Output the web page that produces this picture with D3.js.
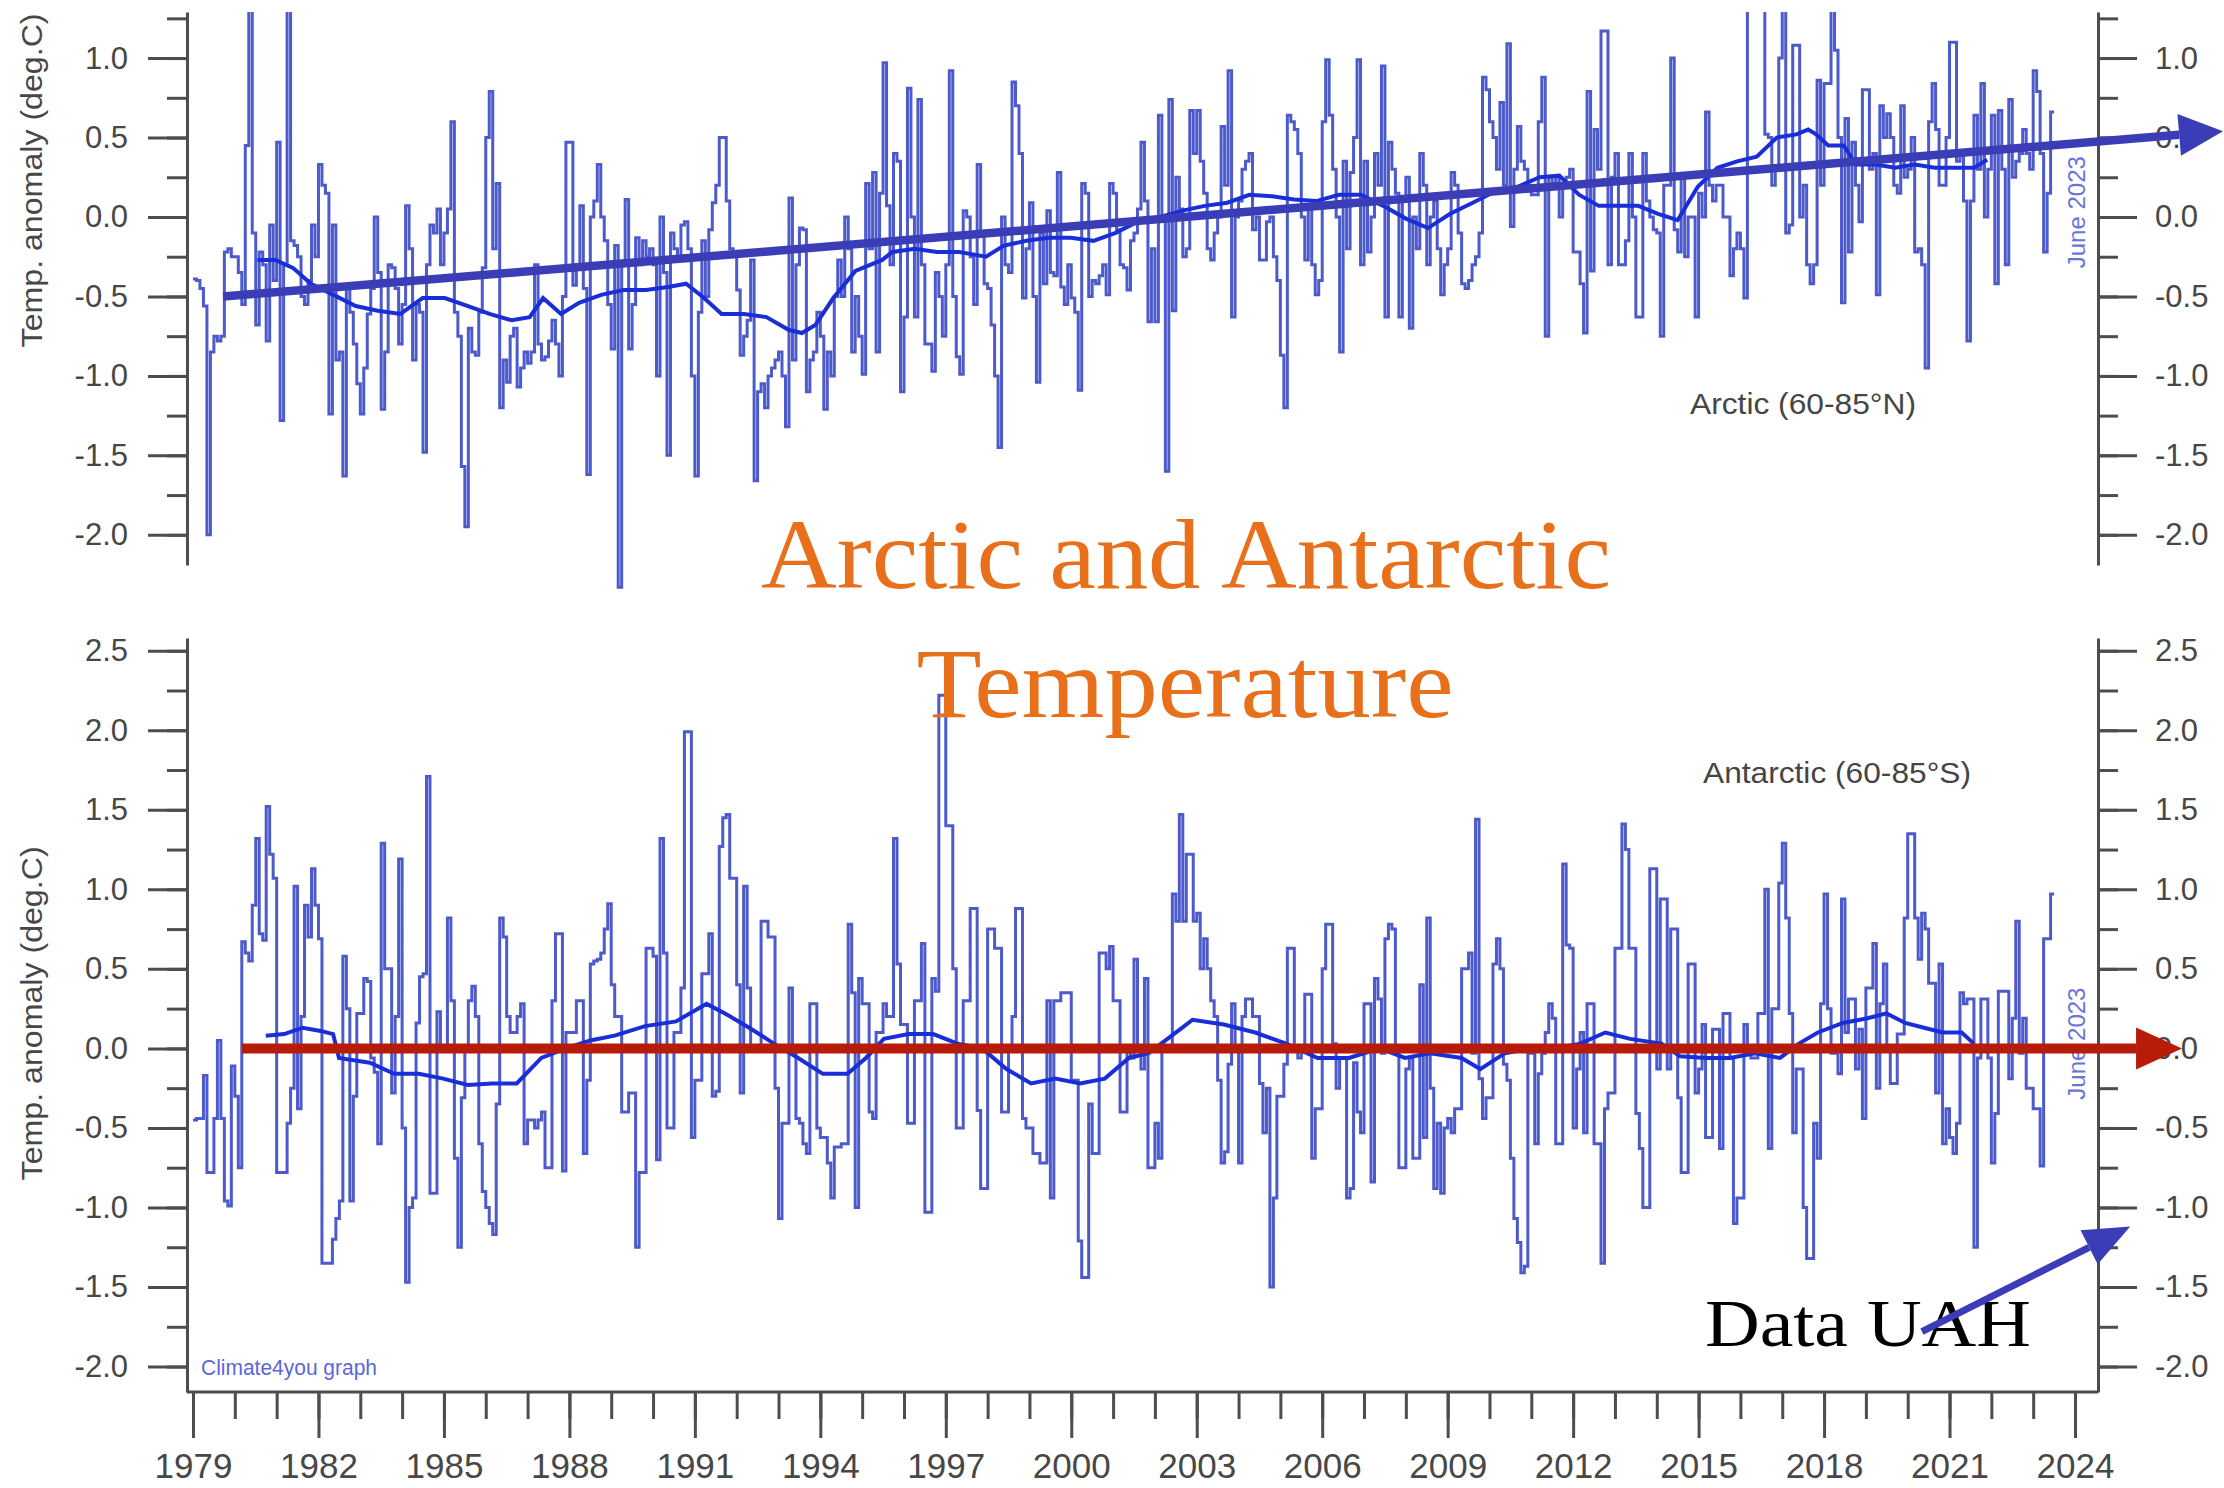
<!DOCTYPE html>
<html>
<head>
<meta charset="utf-8">
<script src="https://cdn.jsdelivr.net/npm/d3@7"></script>
<style>
  html, body { margin: 0; padding: 0; background: #fff; }
  svg { display: block; }
</style>
</head>
<body>
<script>
// ---- data: UAH lower troposphere monthly anomalies ----
const startYear = 1979;

// Arctic (60-85N), Jan 1979 .. Jun 2023, one row per year
const arcticMonthly = [
  -0.39,-0.40,-0.45,-0.56,-2.00,-0.85,-0.75,-0.78,-0.75,-0.22,-0.20,-0.25,
  -0.25,-0.35,-0.55,0.45,1.35,-0.10,-0.68,-0.22,-0.30,-0.78,-0.05,-0.40,
  0.47,-1.28,-0.30,1.35,-0.15,-0.18,-0.25,-0.50,-0.55,-0.40,-0.05,-0.25,
  0.33,0.20,0.15,-1.24,-0.05,-0.90,-0.85,-1.63,-0.45,-0.60,-0.80,-1.05,
  -1.24,-0.95,-0.61,-0.45,0.00,-0.35,-1.21,-0.85,-0.30,-0.32,-0.45,-0.80,
  -0.55,0.07,-0.20,-0.90,-0.55,-0.60,-1.48,-0.30,-0.05,-0.10,0.05,-0.30,
  -0.10,0.05,0.60,-0.60,-0.75,-1.57,-1.95,-0.70,-0.85,-0.87,-0.60,-0.32,
  0.50,0.79,-0.20,0.21,-1.20,-0.90,-1.04,-0.75,-0.70,-1.07,-0.95,-0.85,
  -0.92,-0.85,-0.30,-0.80,-0.90,-0.88,-0.78,-0.65,-0.80,-1.00,-0.50,0.47,
  0.47,-0.43,-0.30,0.07,-0.45,-1.62,0.00,0.10,0.33,0.00,-0.15,-0.55,
  -0.83,-0.18,-2.33,-0.30,0.11,-0.83,-0.55,-0.13,-0.30,-0.15,-0.25,-0.20,
  -0.30,-1.00,0.00,-0.35,-1.50,-0.10,-0.20,-0.25,-0.05,-0.03,-0.20,-1.00,
  -1.63,-0.60,-0.15,-0.50,-0.08,0.09,0.20,0.50,0.50,0.10,-0.20,-0.25,
  -0.46,-0.87,-0.75,-0.65,-0.27,-1.66,-1.10,-1.05,-1.20,-1.00,-0.95,-0.90,
  -0.85,-1.00,-1.32,0.12,-0.90,-0.30,-0.07,-0.08,-1.10,-0.90,-0.85,-0.60,
  -0.75,-1.21,-0.85,-1.00,-0.50,-0.27,-0.50,0.00,-0.20,-0.85,-0.50,-0.75,
  -0.99,0.21,-0.20,0.28,-0.85,0.15,0.97,0.07,-0.30,0.40,0.35,-1.10,
  -0.63,0.81,0.00,-0.63,0.74,-0.30,-0.80,-0.80,-0.97,-0.35,-0.50,-0.75,
  -0.30,0.92,-0.50,-0.88,-0.99,0.04,0.00,-0.25,-0.55,0.33,-0.10,-0.42,
  -0.45,-0.68,-1.00,-1.45,0.00,-0.30,-0.35,0.85,0.70,0.40,-0.51,-0.20,
  0.09,-0.50,-1.04,-0.10,-0.42,0.04,-0.35,-0.37,0.28,-0.44,-0.55,-0.30,
  -0.51,-0.60,-1.09,0.21,0.15,-0.50,-0.40,-0.42,-0.37,-0.30,-0.49,0.21,
  0.15,-0.08,-0.30,-0.32,-0.46,-0.15,-0.10,0.05,0.47,0.10,-0.66,-0.20,
  -0.66,0.64,0.00,-1.60,0.74,-0.59,0.25,0.05,-0.25,-0.20,0.67,0.40,
  0.67,0.35,0.15,-0.20,-0.27,-0.10,0.00,0.57,0.20,0.92,-0.63,0.00,
  0.10,0.30,0.35,0.40,-0.08,0.00,-0.27,-0.27,-0.03,0.00,-0.25,-0.40,
  -0.87,-1.20,0.64,0.60,0.55,0.40,0.00,-0.27,0.07,-0.30,-0.49,-0.40,
  0.60,0.99,0.64,0.30,0.00,-0.85,0.35,-0.20,0.28,0.50,0.99,-0.30,
  0.35,-0.22,0.00,0.40,0.20,0.95,-0.63,0.47,0.30,0.15,-0.63,0.10,
  0.25,-0.70,0.00,-0.20,0.40,0.20,-0.30,0.00,0.10,-0.20,-0.49,-0.30,
  -0.20,0.28,0.20,-0.10,-0.42,-0.45,-0.40,-0.30,-0.25,-0.10,0.88,0.80,
  0.60,0.50,0.30,0.72,0.20,1.09,-0.06,0.30,0.57,0.35,0.30,0.20,
  0.14,0.14,0.60,0.88,-0.75,0.25,0.20,0.25,0.00,0.20,0.25,0.30,
  -0.22,-0.22,-0.42,-0.73,0.79,-0.34,0.55,0.30,1.17,1.17,-0.30,0.25,
  0.40,-0.30,-0.30,-0.15,0.40,0.00,-0.63,-0.63,0.40,0.10,0.00,-0.08,
  -0.10,-0.75,0.20,0.20,1.00,-0.08,-0.22,0.26,-0.25,0.00,0.00,-0.63,
  0.15,0.00,0.66,0.20,0.10,0.20,0.20,0.00,0.00,-0.37,-0.20,-0.10,
  -0.20,-0.51,1.35,1.35,1.35,1.35,1.30,0.52,0.50,0.20,0.30,1.00,
  1.35,-0.10,-0.05,1.08,1.08,0.00,0.20,-0.30,-0.42,-0.30,0.86,0.20,
  0.84,0.84,1.35,1.05,0.50,-0.54,0.62,-0.22,0.47,0.20,-0.03,0.80,
  0.80,0.30,0.40,-0.49,0.70,0.50,0.65,0.50,0.20,0.15,0.70,0.25,
  0.30,0.50,-0.22,-0.20,-0.30,-0.95,0.60,0.84,0.55,0.20,0.20,0.50,
  1.10,1.10,0.35,0.40,0.10,-0.78,0.10,0.64,0.30,0.84,0.00,0.30,
  0.64,-0.42,0.67,0.30,-0.30,0.74,0.25,0.35,0.40,0.55,0.40,0.30,
  0.92,0.79,0.40,-0.22,0.15,0.66
];

// Antarctic (60-85S), Jan 1979 .. Jun 2023
const antarcticMonthly = [
  -0.45,-0.44,-0.44,-0.17,-0.78,-0.78,-0.44,0.05,-0.44,-0.96,-0.99,-0.11,
  -0.30,-0.75,0.67,0.60,0.55,0.90,1.32,0.72,0.68,1.52,1.22,1.07,
  -0.78,-0.78,-0.78,-0.47,-0.25,1.02,-0.38,0.20,0.90,0.70,1.13,0.90,
  0.69,-1.35,-1.35,-1.35,-1.20,-1.07,-0.96,0.58,0.25,-0.96,-0.30,0.22,
  0.22,0.44,0.42,-0.06,-0.15,-0.60,1.29,0.50,0.50,-0.28,0.20,1.19,
  -0.50,-1.47,-1.00,-0.94,0.16,0.45,0.47,1.71,-0.91,-0.91,0.23,0.00,
  0.00,0.82,0.30,-0.69,-1.25,-0.31,0.00,0.30,0.39,0.20,-0.60,-0.90,
  -1.00,-1.10,-1.17,-0.35,0.82,0.70,0.20,0.10,0.10,0.20,0.28,-0.60,
  -0.45,-0.45,-0.50,-0.45,-0.40,-0.75,-0.75,0.30,0.72,0.72,-0.77,0.10,
  0.10,0.10,0.30,0.30,-0.66,-0.20,0.53,0.55,0.56,0.60,0.75,0.91,
  0.40,0.20,0.20,-0.40,-0.40,-0.28,-0.28,-1.25,-0.78,-0.78,0.63,0.63,
  0.58,-0.70,1.32,0.60,-0.50,-0.50,0.10,0.10,0.38,1.99,1.99,-0.56,
  -0.20,-0.20,0.47,0.47,0.72,-0.30,-0.27,1.27,1.45,1.47,1.07,1.07,
  0.40,-0.28,1.02,0.38,-0.02,-0.02,-0.02,0.80,0.80,0.70,0.70,-0.25,
  -1.07,-0.47,-0.47,0.38,0.00,-0.44,-0.47,-0.60,-0.66,0.28,0.28,-0.50,
  -0.56,-0.56,-0.72,-0.94,-0.62,-0.62,-0.60,-0.60,0.78,0.35,-1.00,0.44,
  0.28,0.28,-0.40,-0.44,0.10,0.10,0.28,0.20,0.20,1.32,0.53,0.15,
  0.15,-0.47,-0.47,0.30,0.30,0.66,-1.03,-1.03,0.44,0.36,2.22,2.22,
  1.40,1.40,0.50,-0.50,-0.50,0.30,0.30,0.88,0.88,-0.39,-0.88,-0.88,
  0.75,0.75,0.63,0.63,-0.40,-0.40,0.00,0.20,0.88,0.88,-0.44,-0.50,
  -0.50,-0.66,-0.66,-0.72,-0.72,0.30,-0.94,0.30,0.30,0.35,0.35,0.35,
  -0.20,-0.20,-1.21,-1.44,-1.44,-0.35,-0.66,-0.66,0.60,0.60,0.50,0.64,
  0.30,0.30,-0.40,-0.40,0.00,-0.06,0.56,0.00,-0.13,0.44,-0.75,-0.75,
  -0.47,-0.69,0.00,0.00,0.00,0.97,0.80,1.47,0.80,1.22,1.22,0.80,
  0.85,0.50,0.69,0.50,0.30,0.20,-0.20,-0.72,-0.65,-0.10,0.28,0.00,
  -0.72,0.20,0.31,0.31,0.20,0.20,-0.22,-0.53,-0.25,-1.50,-0.94,-0.30,
  -0.30,-0.10,0.63,0.63,0.00,-0.06,0.00,0.34,0.34,-0.69,-0.38,-0.38,
  0.50,0.78,0.78,0.03,-0.25,-0.06,-0.06,-0.94,-0.88,-0.09,-0.40,-0.53,
  0.28,0.28,-0.84,0.44,0.31,-0.03,0.69,0.78,0.75,-0.03,-0.75,-0.75,
  -0.13,-0.06,-0.69,-0.69,0.40,-0.56,0.82,-0.25,-0.88,-0.47,-0.91,-0.50,
  -0.44,-0.53,-0.38,-0.38,0.50,0.50,0.60,-0.03,1.44,-0.19,-0.44,-0.31,
  -0.31,0.53,0.69,0.50,-0.10,-0.20,-0.69,-1.07,-1.22,-1.41,-1.37,-0.03,
  -0.03,-0.60,-0.16,-0.03,0.10,0.28,0.19,-0.60,-0.60,1.16,0.65,0.63,
  -0.50,-0.13,0.10,-0.53,0.28,0.28,-0.60,-0.60,-1.35,-0.38,-0.28,-0.28,
  0.63,0.63,1.41,1.25,0.63,0.63,-0.41,-0.63,-1.00,-1.00,1.13,1.13,
  -0.13,0.94,0.94,-0.13,0.75,0.75,-0.31,-0.78,-0.78,0.53,0.53,-0.28,
  -0.13,0.15,-0.56,-0.56,0.12,0.12,-0.63,0.22,0.22,-0.06,-1.10,-0.94,
  -0.94,0.15,0.00,-0.06,-0.06,0.22,0.22,1.00,-0.63,0.25,0.25,1.04,
  1.29,0.82,0.22,-0.53,-0.13,-0.13,-1.00,-1.32,-1.32,-0.47,-0.69,0.28,
  0.97,0.25,-0.03,-0.03,-0.16,0.94,0.10,0.31,0.31,-0.13,0.12,-0.44,
  0.38,0.38,0.66,-0.25,0.28,0.53,0.00,-0.22,-0.22,0.09,0.09,0.82,
  1.35,1.35,0.82,0.56,0.85,0.75,0.41,0.41,-0.28,0.53,-0.60,-0.38,
  -0.56,-0.66,-0.47,0.35,0.28,0.31,0.31,-1.25,-0.06,0.31,0.31,-0.06,
  -0.72,-0.41,0.36,0.36,0.36,-0.19,0.19,0.80,-0.03,0.19,-0.25,-0.25,
  -0.38,-0.38,-0.74,0.69,0.69,0.97
];

// 37-month running means as drawn, [decimal year, value]
const arcticSmooth = [
  [1980.54,-0.27],[1980.97,-0.27],[1981.39,-0.32],[1981.82,-0.42],[1982.36,-0.49],
  [1982.89,-0.56],[1983.42,-0.59],[1983.96,-0.61],[1984.49,-0.51],[1985.02,-0.51],
  [1985.56,-0.56],[1986.09,-0.61],[1986.62,-0.65],[1987.05,-0.63],[1987.37,-0.51],
  [1987.8,-0.61],[1988.23,-0.54],[1988.76,-0.49],[1989.29,-0.46],[1989.83,-0.46],
  [1990.36,-0.44],[1990.79,-0.42],[1991.22,-0.51],[1991.64,-0.61],[1992.18,-0.61],
  [1992.71,-0.63],[1993.24,-0.71],[1993.56,-0.73],[1993.88,-0.68],[1994.31,-0.51],
  [1994.84,-0.34],[1995.48,-0.27],[1995.72,-0.22],[1996.26,-0.20],[1996.79,-0.22],
  [1997.32,-0.22],[1997.96,-0.25],[1998.39,-0.18],[1998.93,-0.15],[1999.46,-0.13],
  [1999.99,-0.13],[2000.53,-0.15],[2001.06,-0.10],[2001.59,-0.03],[2002.13,0.00],
  [2002.66,0.04],[2003.19,0.07],[2003.73,0.09],[2004.26,0.14],[2004.8,0.13],
  [2005.33,0.11],[2005.86,0.10],[2006.4,0.14],[2006.93,0.14],[2007.46,0.07],
  [2008.0,-0.01],[2008.53,-0.07],[2009.06,0.02],[2009.6,0.09],[2010.13,0.16],
  [2010.67,0.19],[2011.2,0.25],[2011.67,0.26],[2012.14,0.14],[2012.61,0.07],
  [2013.09,0.07],[2013.56,0.07],[2014.03,0.02],[2014.5,-0.02],[2014.98,0.19],
  [2015.45,0.31],[2015.92,0.35],[2016.39,0.38],[2016.87,0.50],[2017.34,0.52],
  [2017.62,0.55],[2017.81,0.52],[2018.1,0.45],[2018.47,0.45],[2018.76,0.33],
  [2019.23,0.33],[2019.7,0.31],[2020.17,0.33],[2020.65,0.31],[2021.12,0.31],
  [2021.59,0.31],[2021.9,0.36]
];

const antarcticSmooth = [
  [1980.74,0.08],[1981.18,0.09],[1981.62,0.13],[1982.05,0.11],[1982.35,0.09],
  [1982.49,-0.06],[1983.23,-0.09],[1983.81,-0.16],[1984.4,-0.16],[1984.98,-0.19],
  [1985.57,-0.23],[1986.15,-0.22],[1986.74,-0.22],[1987.33,-0.06],[1987.91,0.00],
  [1988.5,0.05],[1989.08,0.08],[1989.81,0.14],[1990.55,0.17],[1991.28,0.28],
  [1991.72,0.22],[1992.3,0.13],[1992.89,0.03],[1993.47,-0.06],[1994.06,-0.16],
  [1994.65,-0.16],[1995.09,-0.06],[1995.52,0.06],[1996.11,0.09],[1996.7,0.09],
  [1997.28,0.03],[1997.87,0.00],[1998.45,-0.13],[1999.04,-0.22],[1999.62,-0.19],
  [2000.21,-0.22],[2000.8,-0.19],[2001.38,-0.06],[2001.85,-0.03],[2002.6,0.12],
  [2002.9,0.18],[2003.65,0.15],[2004.4,0.10],[2005.14,0.03],[2005.89,-0.06],
  [2006.64,-0.06],[2007.38,0.00],[2007.98,-0.06],[2008.58,-0.03],[2009.33,-0.06],
  [2009.78,-0.13],[2010.37,-0.03],[2010.97,0.00],[2011.57,0.00],[2012.17,0.03],
  [2012.77,0.10],[2013.36,0.06],[2014.11,0.03],[2014.56,-0.05],[2015.16,-0.06],
  [2015.75,-0.06],[2016.35,-0.03],[2016.95,-0.06],[2017.4,0.03],[2017.85,0.10],
  [2018.45,0.16],[2019.04,0.19],[2019.49,0.22],[2019.94,0.16],[2020.39,0.13],
  [2020.84,0.10],[2021.29,0.10],[2021.58,0.03]
];

// annotation arrows, [year, value] start and tip
const arcticTrend = [[1979.72, -0.50], [2027.54, 0.54]];
const antarcticTrend = [[1980.17, 0.0], [2026.56, 0.0]];
const uahPointer = [[2020.34, -1.78], [2025.32, -1.12]];

const yearTicks = d3.range(1979, 2025, 3);
const yearMinor = d3.range(1979, 2025, 1);
const topLabels = [-2.0, -1.5, -1.0, -0.5, 0.0, 0.5, 1.0];
const topMinor = d3.range(-2.0, 1.26, 0.25);
const botLabels = [-2.0, -1.5, -1.0, -0.5, 0.0, 0.5, 1.0, 1.5, 2.0, 2.5];
const botMinor = d3.range(-2.0, 2.51, 0.25);

// ---- layout ----
const width = 2224, height = 1488;
const axisL = 187, axisR = 2098;
const sans = "'Liberation Sans', Arial, sans-serif";
const narrow = "'Liberation Sans Narrow', 'Arial Narrow', 'Liberation Sans', sans-serif";
const axisColor = "#4d4d4d";

const svg = d3.select("body").append("svg")
    .attr("width", width)
    .attr("height", height)
    .style("background", "#fff");

const x = d3.scaleLinear().domain([1979, 2024]).range([193, 2075]);

const panels = [
  { name: "top", y: d3.scaleLinear().domain([-2.19, 1.29]).range([565, 12]),
    labels: topLabels, minor: topMinor, data: arcticMonthly, smooth: arcticSmooth,
    clipTop: 12, clipBottom: 640 },
  { name: "bottom", y: d3.scaleLinear().domain([-2.16, 2.58]).range([1392, 638]),
    labels: botLabels, minor: botMinor, data: antarcticMonthly, smooth: antarcticSmooth,
    clipTop: 638, clipBottom: 1392 }
];

const defs = svg.append("defs");

panels.forEach(p => {
    defs.append("clipPath").attr("id", "clip-" + p.name)
      .append("rect")
        .attr("x", axisL).attr("y", p.clipTop)
        .attr("width", axisR - axisL).attr("height", p.clipBottom - p.clipTop);

    // left + right axes, major (labelled) and minor ticks
    const fmt = d => d.toFixed(1);
    const left = svg.append("g").attr("transform", `translate(${axisL},0)`);
    left.call(d3.axisLeft(p.y).tickValues(p.minor).tickSize(20).tickSizeOuter(0).tickFormat(""));
    left.append("g").call(d3.axisLeft(p.y).tickValues(p.labels).tickSize(39).tickSizeOuter(0)
        .tickPadding(20).tickFormat(fmt)).select(".domain").remove();

    const right = svg.append("g").attr("transform", `translate(${axisR},0)`);
    right.call(d3.axisRight(p.y).tickValues(p.minor).tickSize(20).tickSizeOuter(0).tickFormat(""));
    right.append("g").call(d3.axisRight(p.y).tickValues(p.labels).tickSize(39).tickSizeOuter(0)
        .tickPadding(18).tickFormat(fmt)).select(".domain").remove();

    [left, right].forEach(g => {
        g.selectAll("path.domain, line").attr("stroke", axisColor).attr("stroke-width", 3);
        g.selectAll("text").attr("fill", "#474747")
            .style("font", `31px ${sans}`);
    });

    // monthly series drawn as steps
    const pts = p.data.map((v, i) => [startYear + i / 12, v]);
    pts.push([startYear + p.data.length / 12, p.data[p.data.length - 1]]);
    const step = d3.line().x(d => x(d[0])).y(d => p.y(d[1])).curve(d3.curveStepAfter);
    const smooth = d3.line().x(d => x(d[0])).y(d => p.y(d[1]));

    const plot = svg.append("g").attr("clip-path", `url(#clip-${p.name})`);
    plot.append("path")
        .attr("d", step(pts))
        .attr("fill", "none")
        .attr("stroke", "#4c5acc")
        .attr("stroke-width", 3)
        .attr("stroke-linejoin", "miter");
    plot.append("path")
        .attr("d", smooth(p.smooth))
        .attr("fill", "none")
        .attr("stroke", "#1a2ed8")
        .attr("stroke-width", 4);
});

// bottom frame line and year axis
const yb = panels[1].y;
svg.append("line")
    .attr("x1", axisL).attr("x2", axisR)
    .attr("y1", yb(-2.16)).attr("y2", yb(-2.16))
    .attr("stroke", axisColor).attr("stroke-width", 3);

const xg = svg.append("g").attr("transform", `translate(0,${yb(-2.16)})`);
xg.call(d3.axisBottom(x).tickValues(yearMinor).tickSize(27).tickFormat(""));
xg.append("g").call(d3.axisBottom(x).tickValues(yearTicks).tickSize(46).tickPadding(15)
    .tickFormat(d3.format("d")));
xg.selectAll("path.domain").remove();
xg.selectAll("line").attr("stroke", axisColor).attr("stroke-width", 3);
xg.selectAll("text").attr("fill", "#474747").style("font", `35px ${narrow}`);

// y axis titles
[panels[0].y(0.23), panels[1].y(0.22)].forEach(cy => {
    svg.append("text")
        .attr("transform", `translate(42,${cy}) rotate(-90)`)
        .attr("text-anchor", "middle")
        .attr("textLength", 334)
        .attr("lengthAdjust", "spacingAndGlyphs")
        .attr("fill", "#474747")
        .style("font", `30px ${narrow}`)
        .text("Temp. anomaly (deg.C)");
});

// "June 2023" stamps
[panels[0].y(0.03), panels[1].y(0.03)].forEach(cy => {
    svg.append("text")
        .attr("transform", `translate(2085,${cy}) rotate(-90)`)
        .attr("text-anchor", "middle")
        .attr("fill", "#6874dc")
        .style("font", `24px ${narrow}`)
        .text("June 2023");
});

// region labels
svg.append("text")
    .attr("x", 1690).attr("y", panels[0].y(-1.24))
    .attr("textLength", 226).attr("lengthAdjust", "spacingAndGlyphs")
    .attr("fill", "#454545").style("font", `29px ${sans}`)
    .text("Arctic (60-85°N)");
svg.append("text")
    .attr("x", 1703).attr("y", panels[1].y(1.67))
    .attr("textLength", 268).attr("lengthAdjust", "spacingAndGlyphs")
    .attr("fill", "#454545").style("font", `29px ${sans}`)
    .text("Antarctic (60-85°S)");

svg.append("text")
    .attr("x", 201).attr("y", panels[1].y(-2.0) + 8)
    .attr("textLength", 176).attr("lengthAdjust", "spacingAndGlyphs")
    .attr("fill", "#5b66dc").style("font", `22px ${narrow}`)
    .text("Climate4you graph");

// title and source
const serif = "'Liberation Serif', 'Times New Roman', serif";
svg.append("text")
    .attr("x", 1186).attr("y", 588)
    .attr("text-anchor", "middle")
    .attr("textLength", 850).attr("lengthAdjust", "spacingAndGlyphs")
    .attr("fill", "#e8701a").style("font", `100px ${serif}`)
    .text("Arctic and Antarctic");
svg.append("text")
    .attr("x", 1185).attr("y", 717)
    .attr("text-anchor", "middle")
    .attr("textLength", 537).attr("lengthAdjust", "spacingAndGlyphs")
    .attr("fill", "#e8701a").style("font", `100px ${serif}`)
    .text("Temperature");

svg.append("text")
    .attr("x", 1705).attr("y", 1346)
    .attr("textLength", 326).attr("lengthAdjust", "spacingAndGlyphs")
    .attr("fill", "#000").style("font", `68px ${serif}`)
    .text("Data UAH");

// arrows, drawn last so they sit on top
function arrow(p, pair, color, w, headLen, headHalf) {
    const [x1, y1] = [x(pair[0][0]), p.y(pair[0][1])];
    const [x2, y2] = [x(pair[1][0]), p.y(pair[1][1])];
    const a = Math.atan2(y2 - y1, x2 - x1);
    const bx = x2 - headLen * Math.cos(a), by = y2 - headLen * Math.sin(a);
    const nx = -Math.sin(a), ny = Math.cos(a);
    svg.append("line")
        .attr("x1", x1).attr("y1", y1).attr("x2", bx).attr("y2", by)
        .attr("stroke", color).attr("stroke-width", w);
    svg.append("path")
        .attr("d", `M${x2},${y2}L${bx + nx * headHalf},${by + ny * headHalf}L${bx - nx * headHalf},${by - ny * headHalf}Z`)
        .attr("fill", color);
}
arrow(panels[0], arcticTrend, "#3a3db6", 8.5, 44, 21);
arrow(panels[1], antarcticTrend, "#b71c08", 10, 46, 21);
arrow(panels[1], uahPointer, "#3a3db6", 7, 46, 19);
</script>
</body>
</html>
